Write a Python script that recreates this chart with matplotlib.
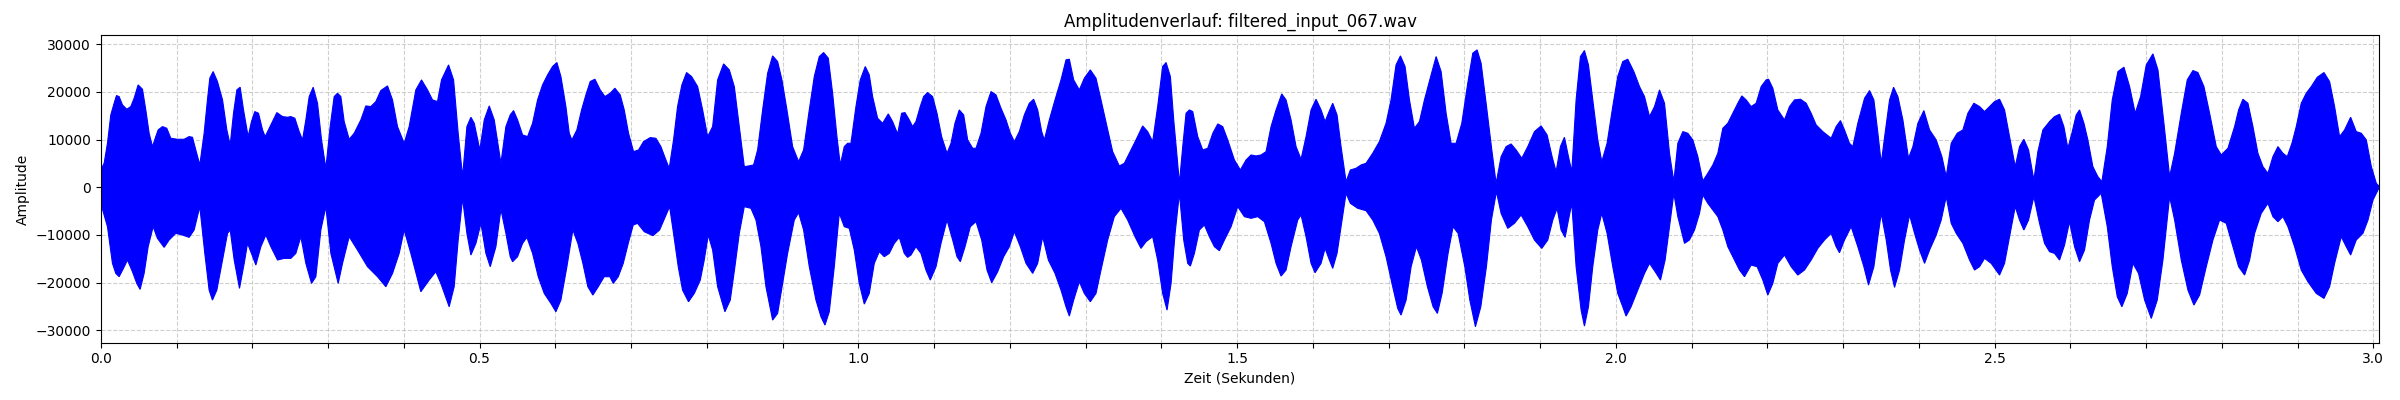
import numpy as np
import matplotlib
matplotlib.use("Agg")
import matplotlib.pyplot as plt
from matplotlib.ticker import MultipleLocator, FuncFormatter

title = "Amplitudenverlauf: filtered_input_067.wav"
x_label = "Zeit (Sekunden)"
y_label = "Amplitude"
duration = 3.008

# Upper envelope of the waveform: (time in s, amplitude)
upper_envelope = [
    (0.000, 3640), (0.0044, 5040), (0.0088, 9240), (0.0132, 15190), (0.0176, 17640),
    (0.0207, 19250), (0.0242, 19040), (0.0286, 17290), (0.0343, 16380), (0.0396, 16940),
    (0.0440, 18690), (0.0493, 21490), (0.0550, 20580), (0.0594, 16240), (0.0638, 11340),
    (0.0682, 8540), (0.0726, 10640), (0.0757, 12040), (0.0814, 12740), (0.0871, 12390),
    (0.0924, 10290), (0.1012, 10080), (0.1100, 10080), (0.1166, 10640), (0.1210, 10500),
    (0.1254, 7840), (0.1307, 4690), (0.1364, 11340), (0.1408, 18340), (0.1439, 22890),
    (0.1483, 24290), (0.1540, 22190), (0.1607, 18340), (0.1664, 12040), (0.1708, 8890),
    (0.1752, 15540), (0.1796, 20440), (0.1840, 21000), (0.1884, 16240), (0.1945, 10640),
    (0.1989, 13790), (0.2033, 15890), (0.2082, 15540), (0.2135, 12040), (0.2170, 10640),
    (0.2245, 13090), (0.2324, 15680), (0.2399, 14840), (0.2465, 14700), (0.2509, 14840),
    (0.2562, 14490), (0.2619, 11690), (0.2663, 9940), (0.2707, 14140), (0.2751, 19040),
    (0.2804, 21000), (0.2861, 17640), (0.2914, 9940), (0.2971, 3990), (0.3028, 12740),
    (0.3081, 19040), (0.3125, 19740), (0.3169, 19040), (0.3213, 13790), (0.3279, 10080),
    (0.3345, 11340), (0.3433, 14140), (0.3499, 17080), (0.3565, 16940), (0.3631, 17990),
    (0.3697, 20300), (0.3785, 21280), (0.3851, 18340), (0.3917, 12740), (0.4005, 9240),
    (0.4071, 12740), (0.4159, 20440), (0.4234, 22540), (0.4313, 20440), (0.4379, 18340),
    (0.4445, 17990), (0.4498, 22540), (0.4591, 25690), (0.4657, 22540), (0.4718, 11340),
    (0.4776, 2240), (0.4833, 12740), (0.4886, 14700), (0.4930, 13440), (0.5004, 7840),
    (0.5062, 14140), (0.5128, 17080), (0.5194, 14140), (0.5282, 5040), (0.5348, 12740),
    (0.5405, 15190), (0.5449, 16100), (0.5502, 14140), (0.5568, 10990), (0.5634, 10640),
    (0.5700, 13440), (0.5766, 18340), (0.5832, 21490), (0.5898, 23590), (0.5964, 25340),
    (0.6021, 26180), (0.6074, 23240), (0.6140, 16940), (0.6184, 11340), (0.6219, 9940),
    (0.6285, 12040), (0.6347, 16240), (0.6404, 19390), (0.6461, 22190), (0.6523, 22680),
    (0.6593, 20440), (0.6655, 19040), (0.6725, 19740), (0.6787, 20790), (0.6857, 19390),
    (0.6910, 16240), (0.6967, 11340), (0.7033, 7490), (0.7099, 7840), (0.7165, 9590),
    (0.7253, 10430), (0.7328, 10290), (0.7394, 8540), (0.7460, 5740), (0.7504, 3990),
    (0.7561, 9940), (0.7614, 16940), (0.7671, 21490), (0.7733, 24080), (0.7799, 23240),
    (0.7879, 21140), (0.7945, 16240), (0.8011, 10640), (0.8077, 12740), (0.8143, 22540),
    (0.8222, 25900), (0.8297, 24640), (0.8363, 21140), (0.8429, 12740), (0.8495, 4340),
    (0.8552, 4480), (0.8618, 4690), (0.8671, 7840), (0.8737, 16240), (0.8803, 23940),
    (0.8869, 27580), (0.8935, 26390), (0.8992, 22540), (0.9058, 16240), (0.9133, 8540),
    (0.9212, 5390), (0.9278, 7840), (0.9353, 16240), (0.9419, 23240), (0.9485, 27440),
    (0.9542, 28280), (0.9604, 27090), (0.9661, 19740), (0.9718, 10640), (0.9762, 4690),
    (0.9815, 8540), (0.9859, 9240), (0.9903, 9240), (0.9969, 16940), (1.0026, 22540),
    (1.0092, 25340), (1.0145, 23590), (1.0189, 19040), (1.0255, 14490), (1.0321, 13440),
    (1.0396, 15400), (1.0453, 13790), (1.0519, 11200), (1.0572, 15540), (1.0616, 15680),
    (1.0673, 14140), (1.0717, 12740), (1.0761, 13790), (1.0818, 16940), (1.0862, 19040),
    (1.0915, 19880), (1.0981, 19040), (1.1039, 15540), (1.1100, 10640), (1.1171, 7140),
    (1.1224, 9240), (1.1276, 13440), (1.1333, 16240), (1.1391, 15190), (1.1444, 9940),
    (1.1510, 8190), (1.1554, 8190), (1.1620, 11340), (1.1686, 16940), (1.1752, 20090),
    (1.1818, 19390), (1.1884, 16590), (1.1950, 14140), (1.2007, 11340), (1.2060, 9590),
    (1.2126, 11690), (1.2192, 15190), (1.2258, 17640), (1.2315, 18480), (1.2368, 16240),
    (1.2421, 11690), (1.2456, 9940), (1.2522, 14140), (1.2597, 18340), (1.2676, 22540),
    (1.2742, 26740), (1.2786, 26880), (1.2843, 22540), (1.2918, 20440), (1.2984, 22890),
    (1.3063, 24640), (1.3138, 22890), (1.3204, 18340), (1.3283, 12740), (1.3358, 7490),
    (1.3446, 4480), (1.3512, 5040), (1.3578, 7140), (1.3666, 9940), (1.3754, 12880),
    (1.3820, 11690), (1.3886, 9590), (1.3952, 16940), (1.4018, 25340), (1.4063, 26180),
    (1.4120, 23240), (1.4164, 14140), (1.4208, 6440), (1.4239, 840), (1.4283, 8540),
    (1.4327, 15540), (1.4371, 16240), (1.4415, 15890), (1.4481, 10640), (1.4547, 7840),
    (1.4613, 8190), (1.4680, 11340), (1.4746, 13300), (1.4811, 12740), (1.4877, 9940),
    (1.4965, 5740), (1.5044, 3640), (1.5119, 5740), (1.5185, 6790), (1.5251, 6580),
    (1.5317, 6790), (1.5383, 7490), (1.5449, 12740), (1.5515, 16240), (1.5590, 19600),
    (1.5647, 18340), (1.5713, 14140), (1.5779, 8540), (1.5845, 5880), (1.5911, 10640),
    (1.5977, 16240), (1.6043, 18480), (1.6109, 16240), (1.6162, 13790), (1.6206, 15540),
    (1.6263, 17640), (1.6320, 15190), (1.6373, 8540), (1.6439, 1190), (1.6496, 3640),
    (1.6571, 3990), (1.6637, 4690), (1.6703, 5040), (1.6791, 7140), (1.6879, 9590),
    (1.6967, 13440), (1.7033, 18340), (1.7099, 25690), (1.7157, 27580), (1.7218, 25340),
    (1.7276, 18340), (1.7342, 12390), (1.7408, 13790), (1.7474, 18340), (1.7562, 23590),
    (1.7628, 27440), (1.7694, 24290), (1.7760, 15540), (1.7826, 9240), (1.7892, 9240),
    (1.7967, 13440), (1.8046, 21840), (1.8112, 28140), (1.8169, 28840), (1.8222, 26040),
    (1.8288, 17640), (1.8363, 7840), (1.8420, 840), (1.8486, 6440), (1.8552, 8540),
    (1.8618, 9100), (1.8684, 7840), (1.8759, 6090), (1.8838, 8540), (1.8926, 11690),
    (1.9014, 12880), (1.9093, 10990), (1.9159, 6440), (1.9212, 3290), (1.9269, 8540),
    (1.9322, 10500), (1.9375, 6440), (1.9419, 3290), (1.9476, 18340), (1.9533, 27440),
    (1.9586, 28700), (1.9639, 25690), (1.9696, 18340), (1.9762, 9940), (1.9815, 5390),
    (1.9885, 9240), (1.9960, 16940), (2.0026, 23240), (2.0092, 26390), (2.0158, 26880),
    (2.0238, 24290), (2.0313, 21140), (2.0379, 19040), (2.0445, 14840), (2.0511, 16940),
    (2.0577, 20440), (2.0643, 17640), (2.0709, 7140), (2.0766, 1190), (2.0819, 9240),
    (2.0885, 11690), (2.0951, 11340), (2.1017, 9940), (2.1083, 6440), (2.1149, 1330),
    (2.1215, 2940), (2.1281, 4690), (2.1347, 7140), (2.1413, 12390), (2.1479, 13440),
    (2.1545, 15540), (2.1611, 17640), (2.1664, 19180), (2.1721, 18340), (2.1787, 16940),
    (2.1853, 17640), (2.1919, 21140), (2.1985, 22540), (2.2016, 22680), (2.2073, 20790),
    (2.2139, 16240), (2.2227, 14140), (2.2293, 16940), (2.2359, 18340), (2.2438, 18480),
    (2.2513, 17640), (2.2579, 15540), (2.2645, 13090), (2.2733, 11690), (2.2843, 10290),
    (2.2909, 12740), (2.2966, 14000), (2.3019, 12040), (2.3085, 9240), (2.3129, 8540),
    (2.3195, 13440), (2.3284, 18690), (2.3350, 20300), (2.3407, 18340), (2.3460, 11340),
    (2.3504, 5040), (2.3561, 12040), (2.3614, 18340), (2.3667, 21000), (2.3724, 19040),
    (2.3790, 14140), (2.3864, 6090), (2.3922, 8540), (2.3988, 13440), (2.4067, 16100),
    (2.4142, 12040), (2.4230, 9940), (2.4305, 6440), (2.4362, 2240), (2.4428, 9240),
    (2.4507, 11340), (2.4582, 12040), (2.4648, 15540), (2.4727, 17640), (2.4802, 16940),
    (2.4868, 15890), (2.4934, 16940), (2.5000, 17990), (2.5066, 18480), (2.5132, 16240),
    (2.5198, 10640), (2.5273, 4340), (2.5330, 8540), (2.5387, 10080), (2.5449, 7840),
    (2.5519, 1540), (2.5572, 7490), (2.5638, 12040), (2.5726, 13790), (2.5792, 14840),
    (2.5858, 15330), (2.5915, 12740), (2.5968, 8190), (2.6021, 11340), (2.6078, 15190),
    (2.6122, 16240), (2.6180, 13440), (2.6232, 9940), (2.6298, 4340), (2.6364, 2240),
    (2.6417, 1190), (2.6488, 8540), (2.6554, 18340), (2.6629, 24290), (2.6708, 25200),
    (2.6783, 21140), (2.6857, 15540), (2.6928, 19040), (2.7003, 25690), (2.7091, 28000),
    (2.7157, 24640), (2.7236, 13440), (2.7311, 2240), (2.7377, 7140), (2.7465, 15540),
    (2.7544, 22540), (2.7619, 24500), (2.7685, 24080), (2.7764, 21140), (2.7839, 15540),
    (2.7927, 8540), (2.7993, 6790), (2.8081, 8190), (2.8169, 12740), (2.8222, 16240),
    (2.8279, 18480), (2.8345, 17640), (2.8411, 12740), (2.8477, 7140), (2.8543, 4340),
    (2.8609, 2940), (2.8675, 6440), (2.8741, 8540), (2.8807, 7140), (2.8864, 6440),
    (2.8926, 9240), (2.8983, 12740), (2.9049, 17640), (2.9115, 19740), (2.9181, 21140),
    (2.9261, 23100), (2.9349, 24080), (2.9423, 22190), (2.9489, 16940), (2.9555, 10640),
    (2.9621, 12040), (2.9701, 14700), (2.9775, 11690), (2.9842, 11340), (2.9908, 9940),
    (2.9974, 4340), (3.0040, 840), (3.0080, 140),
]

# Lower envelope of the waveform: (time in s, amplitude)
lower_envelope = [
    (0.0000, -3360), (0.0088, -8260), (0.0154, -15960), (0.0198, -18060), (0.0242, -18760),
    (0.0299, -17010), (0.0352, -15260), (0.0418, -17710), (0.0475, -20160), (0.0519, -21420),
    (0.0572, -18060), (0.0625, -12460), (0.0691, -8260), (0.0748, -10710), (0.0836, -12600),
    (0.0902, -11060), (0.0990, -9660), (0.1078, -10010), (0.1166, -10500), (0.1232, -8960),
    (0.1307, -4060), (0.1373, -13860), (0.1430, -21560), (0.1474, -23660), (0.1532, -21560),
    (0.1607, -15260), (0.1673, -9660), (0.1708, -8960), (0.1761, -15260), (0.1831, -21210),
    (0.1893, -15960), (0.1937, -11760), (0.1989, -13860), (0.2047, -16310), (0.2113, -12460),
    (0.2179, -10010), (0.2245, -12460), (0.2333, -15260), (0.2421, -14910), (0.2509, -14910),
    (0.2575, -13860), (0.2641, -10360), (0.2707, -15960), (0.2782, -20160), (0.2839, -18760),
    (0.2905, -8960), (0.2971, -4060), (0.3037, -13860), (0.3134, -20160), (0.3191, -15960),
    (0.3279, -10360), (0.3389, -13160), (0.3521, -16660), (0.3653, -18760), (0.3763, -20860),
    (0.3851, -18060), (0.3939, -13860), (0.4005, -8960), (0.4093, -13860), (0.4225, -21910),
    (0.4335, -19460), (0.4423, -17710), (0.4489, -20160), (0.4599, -25060), (0.4665, -20860),
    (0.4718, -11060), (0.4776, -2310), (0.4833, -9660), (0.4886, -14210), (0.4952, -11760),
    (0.5018, -7560), (0.5084, -13860), (0.5141, -16660), (0.5216, -12460), (0.5282, -4620),
    (0.5348, -9660), (0.5405, -14560), (0.5436, -15610), (0.5502, -14560), (0.5568, -11760),
    (0.5625, -10500), (0.5700, -13860), (0.5775, -18760), (0.5854, -22260), (0.5942, -24360),
    (0.6008, -26110), (0.6074, -23660), (0.6153, -16660), (0.6232, -8960), (0.6298, -11760),
    (0.6364, -15960), (0.6430, -20860), (0.6496, -22610), (0.6567, -20860), (0.6646, -18760),
    (0.6721, -18760), (0.6765, -20160), (0.6831, -18760), (0.6897, -15960), (0.6963, -11760),
    (0.7029, -7910), (0.7086, -7560), (0.7174, -9310), (0.7289, -10150), (0.7377, -8960),
    (0.7443, -6510), (0.7509, -4060), (0.7561, -9660), (0.7623, -16660), (0.7680, -21560),
    (0.7759, -24010), (0.7835, -22260), (0.7914, -19460), (0.7966, -15260), (0.8019, -10010),
    (0.8077, -13160), (0.8143, -20860), (0.8239, -26110), (0.8310, -23660), (0.8371, -16660),
    (0.8429, -9660), (0.8495, -4060), (0.8583, -4410), (0.8649, -6860), (0.8715, -12460),
    (0.8781, -20860), (0.8869, -27860), (0.8935, -26460), (0.9001, -20160), (0.9067, -13860),
    (0.9155, -6860), (0.9212, -5320), (0.9278, -8960), (0.9353, -16660), (0.9441, -23660),
    (0.9507, -27160), (0.9560, -28910), (0.9617, -26110), (0.9683, -16660), (0.9749, -5460),
    (0.9815, -8260), (0.9881, -8610), (0.9947, -13160), (1.0013, -20160), (1.0079, -24500),
    (1.0145, -22260), (1.0211, -15960), (1.0277, -13510), (1.0343, -14560), (1.0409, -13860),
    (1.0475, -11760), (1.0541, -10500), (1.0607, -13860), (1.0651, -14700), (1.0695, -14210),
    (1.0761, -12460), (1.0827, -13860), (1.0893, -17360), (1.0950, -19460), (1.1026, -16660),
    (1.1092, -11760), (1.1171, -6860), (1.1246, -11060), (1.1303, -14560), (1.1347, -15610),
    (1.1409, -12460), (1.1479, -8260), (1.1554, -7210), (1.1629, -11060), (1.1699, -17360),
    (1.1761, -20020), (1.1840, -17710), (1.1919, -14560), (1.1994, -12460), (1.2060, -9310),
    (1.2139, -12460), (1.2214, -15960), (1.2302, -18060), (1.2368, -15960), (1.2434, -10360),
    (1.2509, -15260), (1.2597, -18060), (1.2676, -21560), (1.2742, -25060), (1.2786, -27020),
    (1.2843, -23660), (1.2918, -19810), (1.2984, -22260), (1.3063, -24010), (1.3138, -22260),
    (1.3204, -17360), (1.3292, -11060), (1.3380, -6160), (1.3468, -4410), (1.3556, -6860),
    (1.3653, -10360), (1.3732, -12810), (1.3798, -11410), (1.3886, -10360), (1.3952, -15260),
    (1.4018, -22260), (1.4076, -25760), (1.4129, -20160), (1.4182, -9660), (1.4239, -1260),
    (1.4296, -11060), (1.4349, -15960), (1.4384, -16520), (1.4437, -13860), (1.4503, -8960),
    (1.4569, -7910), (1.4635, -10360), (1.4701, -12460), (1.4767, -13300), (1.4833, -11060),
    (1.4921, -8260), (1.5009, -4060), (1.5097, -6160), (1.5185, -6510), (1.5273, -6160),
    (1.5361, -7210), (1.5449, -11760), (1.5515, -15960), (1.5581, -18620), (1.5647, -17360),
    (1.5713, -12460), (1.5801, -6860), (1.5845, -5810), (1.5911, -10360), (1.5977, -15960),
    (1.6030, -17920), (1.6109, -15960), (1.6162, -12810), (1.6219, -15260), (1.6263, -17010),
    (1.6320, -13860), (1.6373, -8260), (1.6439, -1260), (1.6496, -3360), (1.6593, -4410),
    (1.6703, -4900), (1.6791, -6860), (1.6879, -9660), (1.6967, -14560), (1.7055, -20860),
    (1.7121, -25410), (1.7165, -26810), (1.7232, -23660), (1.7298, -16660), (1.7368, -12460),
    (1.7434, -15260), (1.7513, -20860), (1.7588, -25060), (1.7645, -26460), (1.7707, -22260),
    (1.7786, -13860), (1.7852, -8260), (1.7918, -9660), (1.8007, -16660), (1.8073, -23660),
    (1.8147, -29260), (1.8218, -25060), (1.8292, -16660), (1.8358, -6860), (1.8424, -910),
    (1.8486, -5460), (1.8574, -8610), (1.8662, -7560), (1.8750, -5810), (1.8838, -8260),
    (1.8926, -11060), (1.9023, -12810), (1.9102, -11060), (1.9168, -6860), (1.9225, -4410),
    (1.9278, -8960), (1.9331, -10500), (1.9375, -6860), (1.9419, -3360), (1.9476, -16660),
    (1.9542, -25760), (1.9586, -29120), (1.9639, -25060), (1.9696, -16660), (1.9762, -8960),
    (1.9815, -5460), (1.9885, -9660), (1.9960, -16660), (2.0026, -22260), (2.0092, -25060),
    (2.0136, -27020), (2.0202, -25060), (2.0290, -21560), (2.0379, -18060), (2.0445, -15960),
    (2.0520, -17710), (2.0590, -19460), (2.0651, -15260), (2.0709, -8260), (2.0766, -1260),
    (2.0819, -6160), (2.0907, -11760), (2.0972, -11060), (2.1039, -8960), (2.1105, -5460),
    (2.1149, -1610), (2.1215, -3360), (2.1281, -4760), (2.1347, -6160), (2.1413, -8960),
    (2.1479, -12460), (2.1567, -15260), (2.1633, -17360), (2.1699, -18760), (2.1787, -16310),
    (2.1866, -16660), (2.1941, -19460), (2.2007, -22610), (2.2073, -20160), (2.2139, -15960),
    (2.2227, -14210), (2.2315, -16660), (2.2403, -18410), (2.2491, -17360), (2.2579, -15260),
    (2.2667, -12810), (2.2755, -11060), (2.2843, -9660), (2.2909, -12460), (2.2953, -13720),
    (2.3019, -11060), (2.3107, -8260), (2.3195, -12460), (2.3275, -16660), (2.3336, -20510),
    (2.3407, -16660), (2.3460, -10360), (2.3504, -5460), (2.3570, -11060), (2.3627, -17360),
    (2.3680, -21000), (2.3746, -17360), (2.3812, -11060), (2.3878, -5810), (2.3944, -9660),
    (2.4010, -13160), (2.4076, -15960), (2.4142, -13160), (2.4230, -10010), (2.4296, -6860),
    (2.4362, -1960), (2.4428, -7560), (2.4494, -9660), (2.4582, -11760), (2.4670, -15260),
    (2.4736, -17360), (2.4802, -16660), (2.4868, -14910), (2.4956, -15960), (2.5066, -18410),
    (2.5132, -15960), (2.5198, -10360), (2.5273, -4060), (2.5330, -6860), (2.5387, -8960),
    (2.5449, -6860), (2.5519, -1960), (2.5594, -7560), (2.5660, -11760), (2.5726, -13510),
    (2.5792, -13860), (2.5858, -15260), (2.5924, -12110), (2.5990, -7210), (2.6056, -12460),
    (2.6122, -15610), (2.6188, -13160), (2.6254, -6860), (2.6320, -2660), (2.6408, -1260),
    (2.6488, -8260), (2.6554, -16660), (2.6620, -22960), (2.6681, -25060), (2.6752, -22260),
    (2.6827, -15960), (2.6901, -18060), (2.6981, -23660), (2.7069, -27510), (2.7148, -23660),
    (2.7223, -15260), (2.7311, -1960), (2.7377, -6860), (2.7465, -15260), (2.7553, -21560),
    (2.7632, -24710), (2.7707, -22610), (2.7795, -16660), (2.7883, -11060), (2.7971, -6860),
    (2.8059, -7560), (2.8147, -12460), (2.8222, -16660), (2.8301, -18410), (2.8367, -15260),
    (2.8433, -9660), (2.8521, -5460), (2.8609, -3360), (2.8675, -6160), (2.8741, -7210),
    (2.8807, -6160), (2.8873, -8260), (2.8961, -12460), (2.9049, -17360), (2.9137, -19810),
    (2.9247, -22260), (2.9349, -23310), (2.9423, -20860), (2.9489, -15960), (2.9577, -10360),
    (2.9643, -12460), (2.9701, -14210), (2.9775, -11060), (2.9863, -9660), (2.9930, -6860),
    (2.9996, -2660), (3.0062, -560), (3.0080, 0),
]

y_limits = (-32600, 31900)
x_tick_step = 0.1
x_label_step = 0.5

t_up, a_up = np.array(upper_envelope, dtype=float).T
t_lo, a_lo = np.array(lower_envelope, dtype=float).T

fig = plt.figure(figsize=(24, 4), dpi=100)
ax = fig.add_axes([0.042, 0.1433, 0.9494, 0.7685])

ax.fill(np.concatenate([t_up, t_lo[::-1]]),
        np.concatenate([a_up, a_lo[::-1]]),
        facecolor="blue", edgecolor="blue", linewidth=0.8)

ax.set_xlim(0, duration)
ax.set_ylim(*y_limits)
ax.xaxis.set_major_locator(MultipleLocator(x_tick_step))

def fmt(v, pos):
    r = round(v / x_label_step)
    if abs(v - r * x_label_step) < 1e-6:
        return f"{v:.1f}"
    return ""

ax.xaxis.set_major_formatter(FuncFormatter(fmt))
ax.yaxis.set_major_locator(MultipleLocator(10000))
ax.grid(True, linestyle="--", alpha=0.6)
ax.set_axisbelow(True)

ax.set_title(title)
ax.set_xlabel(x_label)
ax.set_ylabel(y_label)

fig.savefig("out.png", dpi=100)
